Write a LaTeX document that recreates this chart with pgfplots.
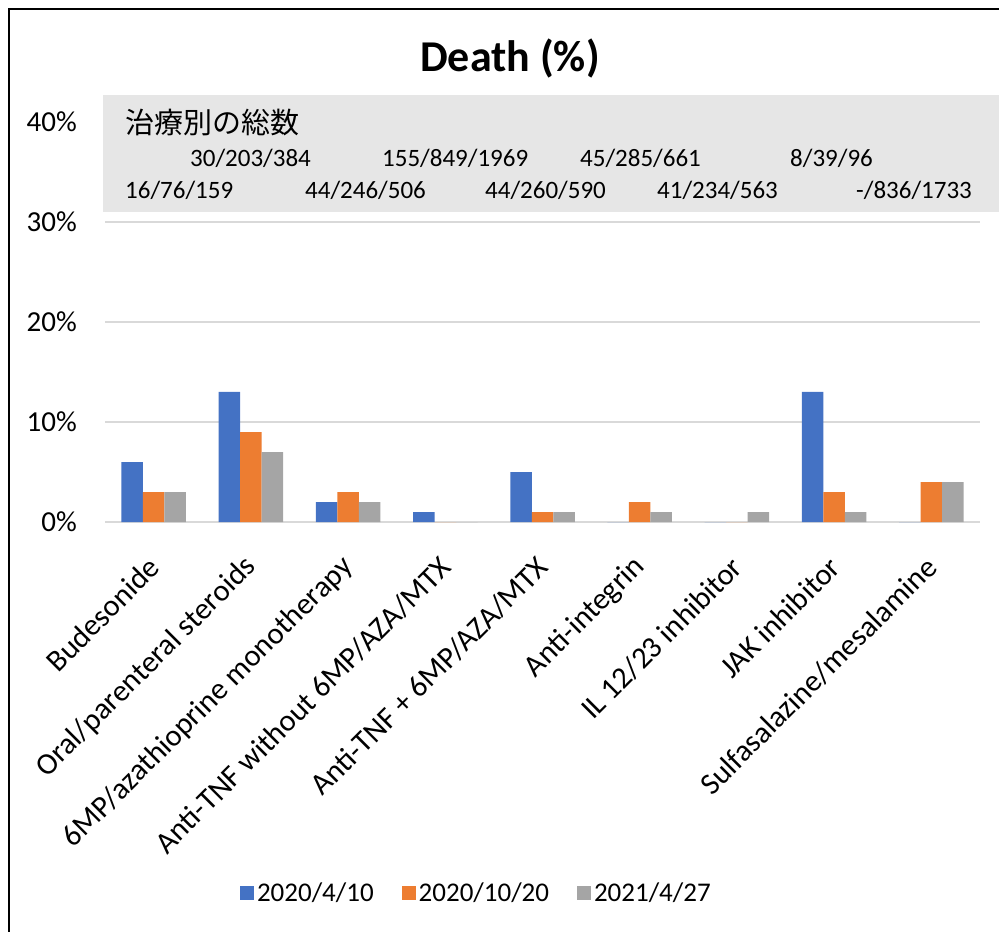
\documentclass[border=0pt]{standalone}
\usepackage{fontspec}
\setmainfont{Carlito}
\newfontfamily\jp{Noto Sans CJK JP}
\usepackage{pgfplots}
\pgfplotsset{compat=1.18}
\definecolor{cblue}{HTML}{4472C4}
\definecolor{corange}{HTML}{ED7D31}
\definecolor{cgray}{HTML}{A5A5A5}
\definecolor{gridgray}{HTML}{D9D9D9}
\definecolor{boxgray}{HTML}{E6E6E6}
\begin{document}
\begin{tikzpicture}
\path[use as bounding box] (0,0) rectangle (999pt,932pt);
\begin{axis}[
  at={(105pt,410pt)}, anchor=south west,
  scale only axis, width=875pt, height=400pt,
  xmin=-0.5, xmax=8.5, ymin=0, ymax=40,
  ybar=0pt, bar width=21.5pt,
  ytick={0,10,20,30,40},
  yticklabel={\pgfmathprintnumber{\tick}\%},
  /pgf/number format/assume math mode=true,
  xtick={0,1,2,3,4,5,6,7,8},
  xticklabels={Budesonide,Oral/parenteral steroids,6MP/azathioprine monotherapy,Anti-TNF without 6MP/AZA/MTX,Anti-TNF + 6MP/AZA/MTX,Anti-integrin,IL 12/23 inhibitor,JAK inhibitor,Sulfasalazine/mesalamine},
  xticklabel style={rotate=45, anchor=east, inner sep=0pt, font=\fontsize{30.5}{34}\selectfont},
  yticklabel style={font=\fontsize{29}{33}\selectfont, inner sep=0pt},
  x tick label style={yshift=-29pt, xshift=-28pt},
  y tick label style={xshift=-28pt},
  major tick length=0pt,
  axis line style={draw=none},
  ymajorgrids, grid style={color=gridgray, line width=2pt},
  legend style={at={(0.425,-0.9275)}, anchor=center, draw=none, fill=none,
    font=\fontsize{27}{31}\selectfont, legend columns=3,
    nodes={inner sep=3pt},
    /tikz/every even column/.append style={column sep=25pt}},
  legend image code/.code={\fill[#1] (0pt,-7pt) rectangle (14pt,7pt);},
]
\addplot[fill=cblue, draw=none] coordinates {(0,6) (1,13) (2,2) (3,1) (4,5) (5,0) (6,0) (7,13) (8,0)};
\addplot[fill=corange, draw=none] coordinates {(0,3) (1,9) (2,3) (3,0) (4,1) (5,2) (6,0) (7,3) (8,4)};
\addplot[fill=cgray, draw=none] coordinates {(0,3) (1,7) (2,2) (3,0) (4,1) (5,1) (6,1) (7,1) (8,4)};
\legend{2020/4/10,2020/10/20,2021/4/27}
\end{axis}
% frame
\draw[line width=2.5pt, black] (9pt,0pt) -- (9pt,923pt) -- (999pt,923pt);
% title
\node[font=\fontsize{44}{48}\bfseries\selectfont] at (510pt,873pt) {Death (\%)};
% gray box
\fill[boxgray] (103pt,837pt) rectangle (999pt,720pt);
\node[anchor=west, inner sep=0pt, font=\jp\fontsize{29}{33}\selectfont] at (125pt,809pt) {治療別の総数};
\begin{scope}[every node/.style={anchor=west, inner sep=0pt, font=\fontsize{25}{30}\selectfont}]
\node at (190pt,774pt) {30/203/384};
\node at (382pt,774pt) {155/849/1969};
\node at (580pt,774pt) {45/285/661};
\node at (790pt,774pt) {8/39/96};
\node at (125pt,742pt) {16/76/159};
\node at (305pt,742pt) {44/246/506};
\node at (485pt,742pt) {44/260/590};
\node at (657pt,742pt) {41/234/563};
\node at (856pt,742pt) {-/836/1733};
\end{scope}
\end{tikzpicture}
\end{document}
